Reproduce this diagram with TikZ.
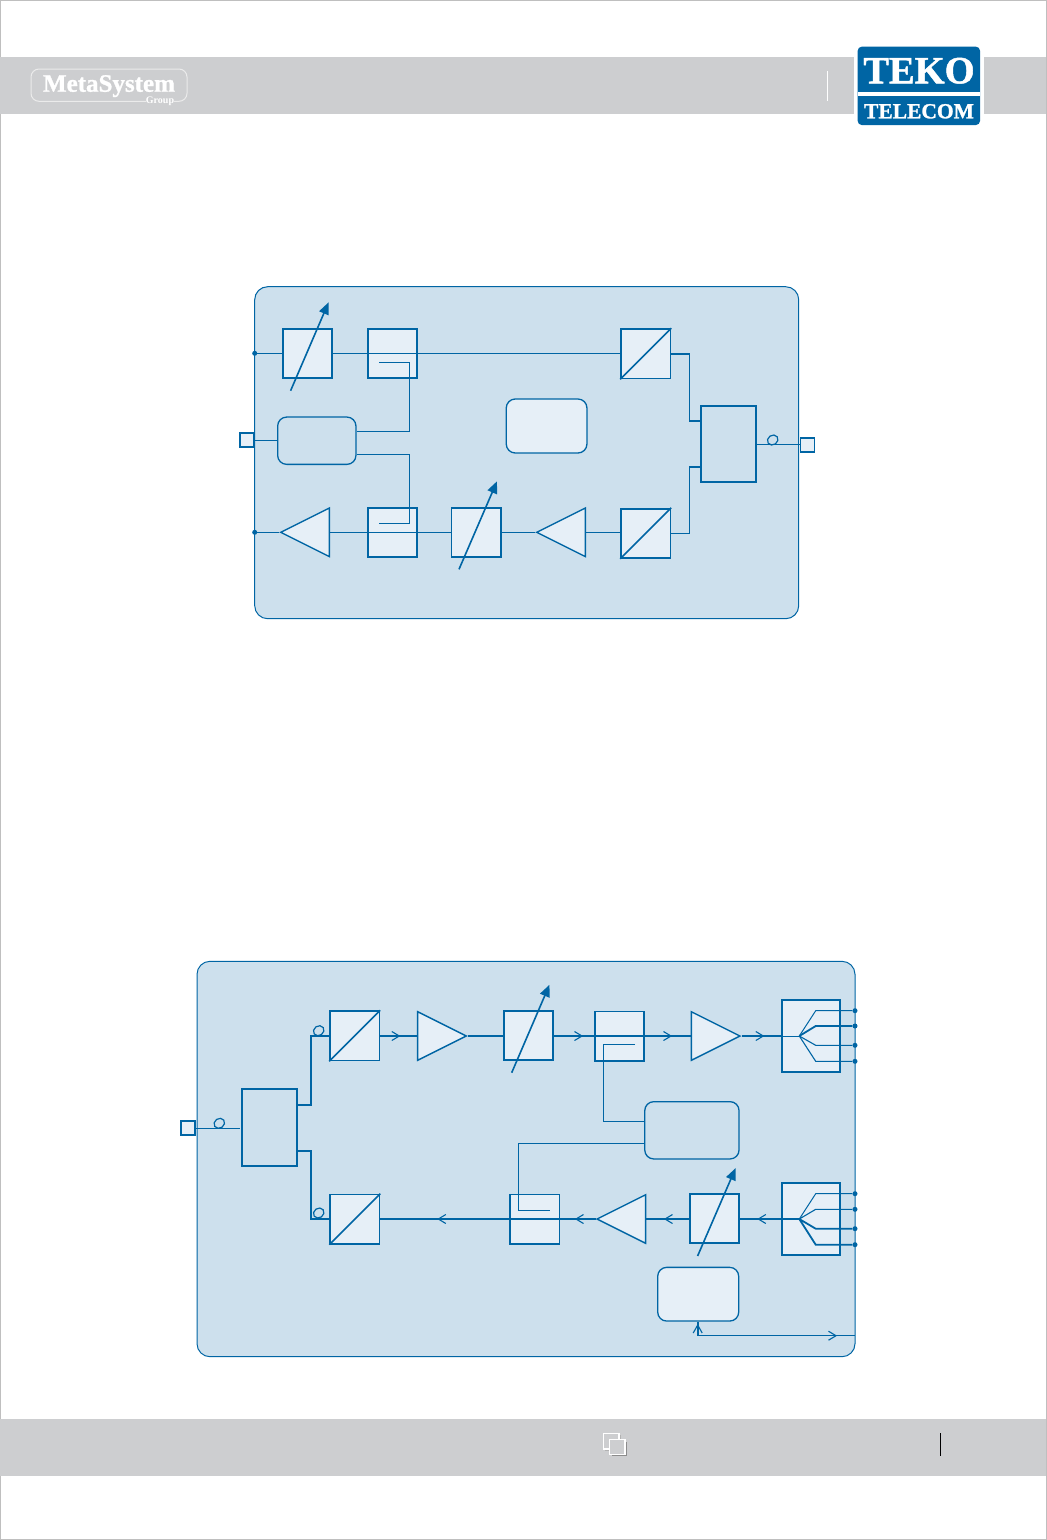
\documentclass[tikz,border=0pt]{standalone}
\usepackage{fontspec}
\setmainfont{Liberation Serif}
\newfontfamily\logofont[FakeBold=1.2]{Liberation Serif Bold}
\usetikzlibrary{arrows.meta,positioning,shapes.geometric,calc}
\definecolor{tkblue}{RGB}{0,101,164}
\definecolor{tkpanel}{RGB}{205,224,237}
\definecolor{tklight}{RGB}{230,239,247}
\definecolor{tkband}{RGB}{205,206,208}
\tikzset{
  panel/.style={draw=tkblue, fill=tkpanel, rounded corners=13pt, line width=1pt},
  stagebox/.style={draw=tkblue, fill=#1, line width=1.8pt, minimum width=49.2pt, minimum height=49.2pt, inner sep=0pt},
  roundbox/.style={draw=tkblue, fill=#1, line width=1.3pt, rounded corners=9pt, inner sep=0pt},
  port/.style={draw=tkblue, fill=tklight, line width=1.5pt, minimum size=14pt, inner sep=0pt},
  ampl/.style={draw=tkblue, fill=tklight, line width=1.4pt, isosceles triangle, isosceles triangle apex angle=53.13,
               minimum height=48.6pt, inner sep=0pt, shape border rotate=#1, anchor=apex},
  pin/.style={circle, fill=tkblue, minimum size=5pt, inner sep=0pt},
  fibre/.style={draw=tkblue, ellipse, line width=1.2pt, minimum width=11pt, minimum height=9.5pt, inner sep=0pt, rotate=35},
  thinline/.style={draw=tkblue, line width=1pt},
  midline/.style={draw=tkblue, line width=1.6pt},
  fatline/.style={draw=tkblue, line width=2pt},
  tuner/.style={draw=tkblue, line width=1.6pt, -{Triangle[length=12pt,width=10pt]}},
  chev/.style={draw=tkblue, line width=1.1pt},
}
\begin{document}
\begin{tikzpicture}[x=1pt, y=-1pt]
\useasboundingbox (0,0) rectangle (1047,1540);
\fill[white] (0,0) rectangle (1047,1540);
\draw[black!25, line width=1pt] (0.5,0.5) rectangle (1046.5,1539.5);
% Header and footer bands
\fill[tkband] (0,57) rectangle (1046,113.7);
\fill[tkband] (0,1419) rectangle (1046,1475.7);
\draw[white, line width=0.8pt] (827.3,71.3) -- (827.3,100.7);
\draw[black, line width=0.8pt] (940.3,1433) -- (940.3,1455.7);
% MetaSystem mark
\draw[white!92!black, line width=1pt, rounded corners=8pt] (146,101.3) -- (31,101.3) -- (31,69) -- (187,69) -- (187,101.3) -- (174,101.3);
\node[font=\fontsize{25}{25}\logofont, text=white, inner sep=0pt, anchor=base] (metaname) at (109,91.7) {MetaSystem};
\node[font=\fontsize{10}{10}\selectfont\bfseries, text=white, inner sep=0pt, anchor=base] (metagroup) at (160,103.5) {Group};
% TEKO logo
\fill[white] (854,57) rectangle (983.7,113.7);
\fill[tkblue, rounded corners=4pt] (857.7,46.7) rectangle (980,125);
\fill[white] (857.7,92) rectangle (980,95.5);
\node[font=\fontsize{38.5}{39}\logofont, text=white, inner sep=0pt, anchor=base] (tekoname) at (919,83.3) {TEKO};
\node[font=\fontsize{21.5}{22}\logofont, text=white, inner sep=0pt, anchor=base] (tekotel) at (919,118.3) {TELECOM};
% Footer icon
\fill[black!30] (605,1435) rectangle (621,1451);
\draw[white, line width=1.3pt, fill=tkband] (603.8,1433.8) rectangle (619,1449);
\fill[black!45] (611.5,1441.5) rectangle (626.5,1456);
\draw[white, line width=1.3pt, fill=tkband] (609.8,1439.8) rectangle (625,1454.5);

% ---- Upper panel ----
\draw[panel] (254.7,286.7) rectangle (798.7,618.7);
\node[stagebox=tklight] (vgat) at (307.6,353.3) {};
\node[stagebox=tklight] (cplt) at (392.6,353.3) {};
\node[stagebox=tklight] (eot) at (645.8,353.8) {};
\node[stagebox=tklight] (cplb) at (392.6,532.3) {};
\node[stagebox=tklight] (vgab) at (476,532.3) {};
\node[stagebox=tklight] (eob) at (645.8,533.3) {};
\node[ampl=180] (ampb) at (279.2,532.3) {};
\node[ampl=180] (ampc) at (535.2,532.3) {};
\node[roundbox=tkpanel, minimum width=78.3pt, minimum height=47.3pt] (ctrlt) at (316.8,440.7) {};
\node[roundbox=tklight, minimum width=80.7pt, minimum height=54pt] (cpu) at (546.6,426) {};
\node[stagebox=tkpanel, minimum width=55.3pt, minimum height=76.3pt] (wdmt) at (728.6,444.2) {};
\node[port] (portl) at (246.8,440) {};
\node[port] (portr) at (807.5,444.8) {};
\node[pin] (pina) at (254.7,353.3) {};
\node[pin] (pinb) at (254.7,532.3) {};
\node[fibre] (fibt) at (772.7,440) {};
% Lines
\draw[thinline] (pina) -- (vgat);
\draw[thinline] (vgat) -- (eot.west |- vgat);
\draw[thinline] (pinb) -- (ampb.apex);
\draw[thinline] (ampb.east) -- (vgab.west);
\draw[thinline] (vgab.east) -- (ampc.apex);
\draw[thinline] (ampc.east) -- (eob.west |- ampc.east);
\draw[thinline] (portl) -- (ctrlt.west |- portl);
\draw[thinline] (wdmt.east |- portr) -- (portr);
\draw[thinline] (379,362.3) -- (409.7,362.3) -- (409.7,431.3) -- (ctrlt.east |- 0,431.3);
\draw[thinline] (ctrlt.east |- 0,454.3) -- (409.7,454.3) -- (409.7,523.3) -- (379,523.3);
\draw[midline] (eot.east) -- ++(18,0) |- (wdmt.west |- 0,421);
\draw[midline] (eob.east) -- ++(18,0) |- (wdmt.west |- 0,467);
\draw[midline] (eot.south west) -- (eot.north east);
\draw[midline] (eob.south west) -- (eob.north east);
\draw[tuner] ($(vgat)+(-17,37.4)$) -- ($(vgat)+(21,-51)$);
\draw[tuner] ($(vgab)+(-17,37)$) -- ($(vgab)+(21,-51)$);

% ---- Lower panel ----
\draw[panel] (197,961.3) rectangle (855,1356.7);
\node[stagebox=tkpanel, minimum width=55.3pt, minimum height=76.7pt] (wdmd) at (269.7,1127.7) {};
\node[port] (portd) at (188.2,1128.2) {};
\node[stagebox=tklight] (eoa) at (354.8,1035.8) {};
\node[stagebox=tklight] (eoc) at (354.8,1219.1) {};
\node[stagebox=tklight] (vgaa) at (528.5,1035.3) {};
\node[stagebox=tklight] (cpla) at (619.5,1036) {};
\node[stagebox=tklight] (cplc) at (534.8,1219.1) {};
\node[stagebox=tklight] (vgac) at (714.6,1218.7) {};
\node[ampl=0] (ampa) at (467.8,1036) {};
\node[ampl=0] (ampe) at (741.5,1036) {};
\node[ampl=180] (ampd) at (595.5,1219) {};
\node[stagebox=tklight, minimum width=58pt, minimum height=72pt] (spla) at (811.3,1036) {};
\node[stagebox=tklight, minimum width=58pt, minimum height=72.3pt] (splc) at (811.3,1219.1) {};
\node[roundbox=tkpanel, minimum width=94.3pt, minimum height=57.3pt] (ctrld) at (691.9,1130.3) {};
\node[roundbox=tklight, minimum width=81pt, minimum height=53.7pt] (mcu) at (698.2,1294.2) {};
\node[fibre] (fiba) at (219.3,1123.3) {};
\node[fibre] (fibb) at (318.7,1030.7) {};
\node[fibre] (fibc) at (318.7,1213) {};
\coordinate (fana) at (799.3,1036);
\coordinate (fanc) at (799.3,1219);
\coordinate (mains) at (855,1335.7);
% Lines
\draw[thinline] (portd) -- (240,1128.2);
\draw[midline] (wdmd.east |- 0,1104.7) -- ++(12.7,0) |- (eoa.west);
\draw[midline] (wdmd.east |- 0,1150.7) -- ++(12.7,0) |- (eoc.west);
\draw[midline] (eoa.south west) -- (eoa.north east);
\draw[midline] (eoc.south west) -- (eoc.north east);
\draw[fatline] (eoa.east |- ampa.apex) -- (ampa.west);
\draw[fatline] (ampa.apex) -- (vgaa.west |- ampa.apex);
\draw[fatline] (vgaa.east |- cpla) -- (ampe.west);
\draw[fatline] (ampe.apex) -- (spla.west);
\draw[thinline] (spla.west) -- (fana);
\draw[fatline] (splc.west |- fanc) -- (vgac.east |- fanc);
\draw[fatline] (vgac.west |- fanc) -- (ampd.east |- fanc);
\draw[fatline] (splc.west |- fanc) -- (fanc);
\draw[fatline] (ampd.apex) -- (eoc.east |- ampd.apex);
\draw[thinline] (635,1044.3) -- (603.7,1044.3) -- (603.7,1121.3) -- (ctrld.west |- 0,1121.3);
\draw[thinline] (ctrld.west |- 0,1143.3) -- (518.3,1143.3) -- (518.3,1210.3) -- (550,1210.3);
\draw[tuner] ($(vgaa)+(-16.8,37.4)$) -- ($(vgaa)+(21,-50.6)$);
\draw[tuner] ($(vgac)+(-17,37.3)$) -- ($(vgac)+(21,-50.6)$);
% Outputs of the two splitters
\foreach \n/\yy/\w in {1/1010.7/1, 2/1026/1.8, 3/1045.3/1.1, 4/1061.3/1.1}{
  \node[pin] (outa\n) at (855,\yy) {};
  \draw[draw=tkblue, line width=\w pt] (fana) -- (815.7,\yy) -- (outa\n);
}
\foreach \n/\yy/\w in {1/1193.7/1, 2/1209.3/1.1, 3/1228.7/1.8, 4/1244.7/1.8}{
  \node[pin] (outc\n) at (855,\yy) {};
  \draw[draw=tkblue, line width=\w pt] (fanc) -- (815.7,\yy) -- (outc\n);
}
\draw[midline] (mcu.south) -- (mcu.south |- mains);
\draw[thinline] (mcu.south |- mains) -- (mains);
% Direction marks
\foreach \x/\y in {399.3/1036, 582/1036, 671/1036, 763.3/1036, 836/1335.7}{
  \draw[chev] (\x-7.5,\y-4.5) -- (\x,\y) -- (\x-7.5,\y+4.5);
}
\foreach \x/\y in {758.3/1219, 665/1219, 576/1219, 438.3/1219}{
  \draw[chev] (\x+7.5,\y-4.5) -- (\x,\y) -- (\x+7.5,\y+4.5);
}
\draw[chev] (693.2,1333) -- (697.7,1325) -- (702.2,1333);
\end{tikzpicture}
\end{document}
